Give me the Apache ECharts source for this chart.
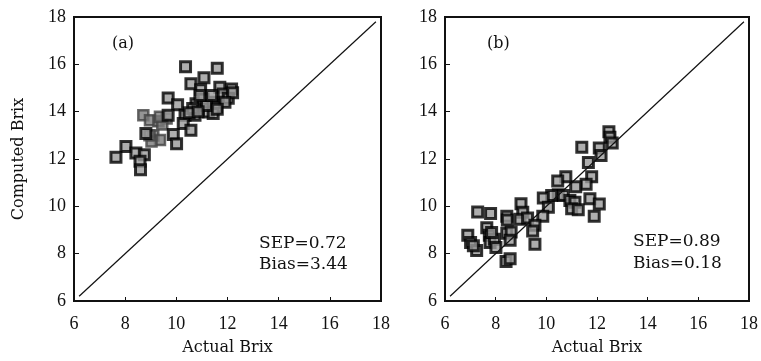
<!DOCTYPE html>
<html><head><meta charset="utf-8">
<script src="https://cdn.jsdelivr.net/npm/echarts@6/dist/echarts.min.js"></script>
<style>html,body{margin:0;padding:0;background:#fff}#c{width:761px;height:361px}</style>
</head><body><div id="c"></div>
<script>
// Axis ticks
var axisMin = 6, axisMax = 18, axisStep = 2;
// Panel (a): actual vs computed Brix (dark markers)
var aActual   = [10.36,11.6,11.08,10.57,10.95,11.7,12.16,9.68,10.05,10.77,11.05,11.44,11.83,12.03,11.57,11.25,11.44,10.34,10.73,10.27,10.57,9.68,8.81,9.88,10.01,8.03,7.64,8.42,8.75,8.58,8.6,11.18,11.38,10.92,10.64,12.2,11.9,11.6,10.5,10.85];
var aComputed = [15.9,15.83,15.43,15.18,14.93,15.03,14.96,14.58,14.29,14.33,14.54,14.4,14.75,14.57,14.2,13.99,13.92,13.85,13.85,13.5,13.21,13.85,13.08,13.04,12.64,12.53,12.07,12.25,12.18,11.9,11.55,14.26,14.68,14.68,14.13,14.8,14.4,14.1,13.95,14.0];
// Panel (a): grey-smeared markers
var aGreyActual   = [8.71,8.97,9.3,9.62,9.45,9.1,9.36,9.03,9.36,8.95];
var aGreyComputed = [13.85,13.64,13.6,13.71,13.46,12.99,12.8,12.74,13.78,13.0];
// Panel (b)
var bActual   = [11.4,12.09,12.16,12.47,12.51,12.6,11.66,11.79,11.57,11.16,10.77,10.45,10.47,10.21,10.67,9.88,10.08,9.86,10.93,11.13,11.0,11.26,11.72,12.09,11.89,9.0,9.07,8.96,9.26,9.55,9.46,9.55,8.44,8.46,8.44,8.61,8.57,8.41,8.57,7.29,7.8,7.65,7.75,7.78,7.95,8.01,7.84,6.9,7.01,7.25,7.12];
var bComputed = [12.5,12.47,12.15,13.15,12.92,12.68,11.85,11.25,10.93,10.83,11.25,11.07,10.49,10.46,10.46,10.35,9.96,9.58,10.25,10.17,9.9,9.86,10.32,10.1,9.58,10.11,9.75,9.45,9.51,9.2,8.96,8.4,9.58,9.42,8.86,8.92,8.57,7.67,7.78,9.76,9.7,9.1,8.78,8.47,8.61,8.26,8.89,8.78,8.47,8.13,8.33];
// Identity line ends
var lineEnds = [6.2, 17.8];
// Annotations
var panelTags = ['(a)', '(b)'];
var statsA = ['SEP=0.72', 'Bias=3.44'];
var statsB = ['SEP=0.89', 'Bias=0.18'];

function zip(x, y){ return x.map(function(v,i){ return [v, y[i]]; }); }

var tickFont = {fontFamily:'Liberation Serif', fontSize:18, color:'#111'};
var titleFont = {fontFamily:'DejaVu Serif', fontSize:16, color:'#111'};

function xAx(gi, name, gap){
  return {gridIndex:gi, type:'value', min:axisMin, max:axisMax, interval:axisStep,
    name:name, nameLocation:'middle', nameGap:gap, nameTextStyle:titleFont,
    axisLine:{show:true, lineStyle:{color:'#111', width:2}},
    axisTick:{show:true, inside:true, length:4, lineStyle:{color:'#111', width:1}},
    axisLabel:Object.assign({margin:14}, tickFont),
    splitLine:{show:false}};
}
function yAx(gi, name, gap){
  return {gridIndex:gi, type:'value', min:axisMin, max:axisMax, interval:axisStep,
    name:name, nameLocation:'middle', nameGap:gap, nameTextStyle:titleFont,
    axisLine:{show:true, lineStyle:{color:'#111', width:2}},
    axisTick:{show:true, inside:true, length:5, lineStyle:{color:'#111', width:1}},
    axisLabel:Object.assign({margin:8}, tickFont),
    splitLine:{show:false}};
}
var markStyle = {color:'#9a9a9a', borderColor:'#000', borderWidth:3};
var greyStyle = {color:'#7a7a7a', borderColor:'#444', borderWidth:2.5};

var chart = echarts.init(document.getElementById('c'), null, {renderer:'canvas'});
chart.setOption({
  animation:false,
  backgroundColor:'#fff',
  grid:[
    {left:74, top:17, width:307, height:288, show:true, borderColor:'#111', borderWidth:2, backgroundColor:'transparent'},
    {left:445, top:17, width:304, height:288, show:true, borderColor:'#111', borderWidth:2, backgroundColor:'transparent'}
  ],
  xAxis:[xAx(0,'Actual Brix',39), xAx(1,'Actual Brix',39)],
  yAxis:[yAx(0,'Computed Brix',47), yAx(1,'',30)],
  series:[
    {type:'line', xAxisIndex:0, yAxisIndex:0, data:[[lineEnds[0],lineEnds[0]],[lineEnds[1],lineEnds[1]]], symbol:'none', lineStyle:{color:'#111', width:1.2}},
    {type:'line', xAxisIndex:1, yAxisIndex:1, data:[[lineEnds[0],lineEnds[0]],[lineEnds[1],lineEnds[1]]], symbol:'none', lineStyle:{color:'#111', width:1.2}},
    {type:'scatter', xAxisIndex:0, yAxisIndex:0, data:zip(aGreyActual,aGreyComputed), symbol:'rect', symbolSize:10, itemStyle:greyStyle},
    {type:'scatter', xAxisIndex:0, yAxisIndex:0, data:zip(aActual,aComputed), symbol:'rect', symbolSize:10, itemStyle:markStyle},
    {type:'scatter', xAxisIndex:1, yAxisIndex:1, data:zip(bActual,bComputed), symbol:'rect', symbolSize:10, itemStyle:markStyle}
  ],
  graphic:[
    {type:'text', left:112, top:36, style:{text:panelTags[0], font:'16px "DejaVu Serif"', fill:'#111'}},
    {type:'text', left:487, top:36, style:{text:panelTags[1], font:'16px "DejaVu Serif"', fill:'#111'}},
    {type:'text', left:259, top:233, style:{text:statsA.join('\n'), font:'17px "DejaVu Serif"', fill:'#111', lineHeight:21}},
    {type:'text', left:633, top:231, style:{text:statsB.join('\n'), font:'17px "DejaVu Serif"', fill:'#111', lineHeight:22}}
  ]
});
</script>
</body></html>
